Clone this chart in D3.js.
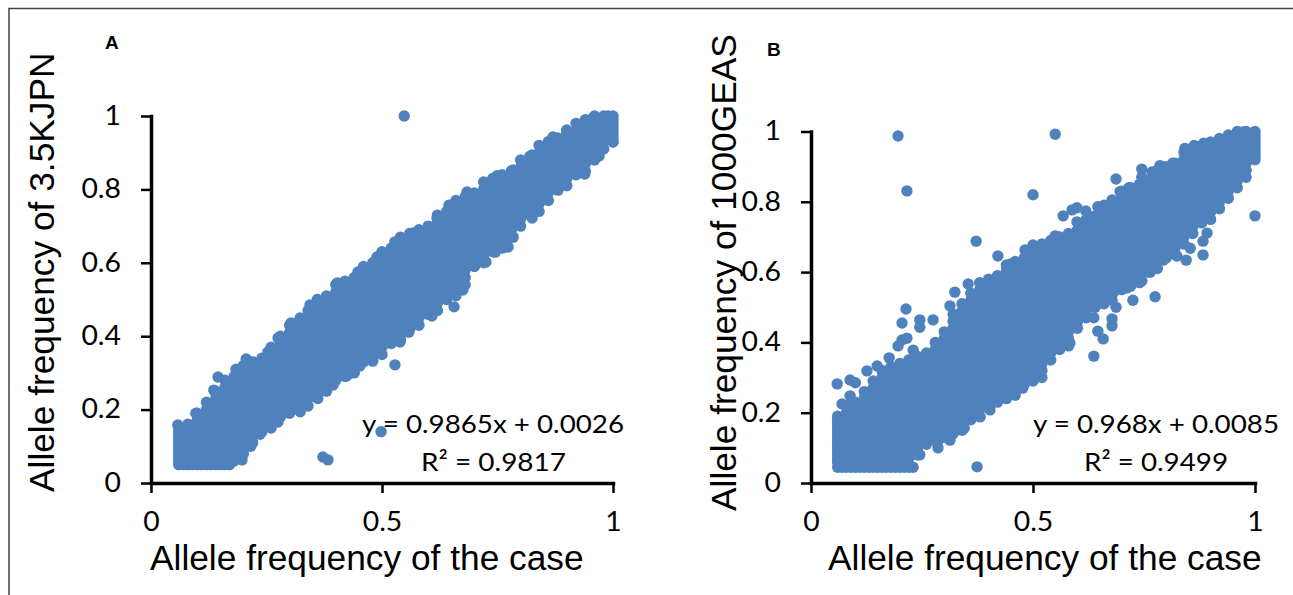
<!DOCTYPE html>
<html>
<head>
	<meta charset="utf-8" />
	<title>Allele frequency scatter</title>
	<script src="https://d3js.org/d3.v7.min.js"></script>
	<style type="text/css">
		body { margin: 0; background: white; }
		.tick text { font-family: Lato, sans-serif; font-size: 26px; fill: #000; }
		.title { font-family: "Liberation Sans", sans-serif; font-size: 35.3px; fill: #000; }
		.eq { font-family: Lato, sans-serif; font-size: 25.5px; fill: #000; }
		.letter { font-family: "Liberation Sans", sans-serif; font-weight: bold; font-size: 19px; fill: #000; }
	</style>
</head>
<body>
	<script>
		// all frequencies are in percent
		const caseCols = [6,8,10,12,14,16,18,20,22,24,26,28,30,32,34,36,38,40,42,44,46,48,50,52,54,56,58,60,62,64,66,68,70,72,74,76,78,80,82,84,86,88,90,92,94,96,98,100];

		const refA = [
			[5,7,9,11,13,15],
			[5,6,8,10,12,14,16],
			[5,7,9,11,13,15,17,19],
			[5,6,8,10,12,14,16,18,20,22],
			[5,7,9,11,13,15,17,19,21,23,25],
			[5,6,8,10,12,14,16,18,20,22,24,26,28],
			[6,7,9,11,13,15,17,19,21,23,25,27,29],
			[8,10,12,14,16,18,20,22,24,26,28,30,32],
			[11,13,15,17,19,21,23,25,27,29,31,33],
			[14,16,18,20,22,24,26,28,30,32,34],
			[15,17,19,21,23,25,27,29,31,33,35,37],
			[18,20,22,24,26,28,30,32,34,36,38,40],
			[19,21,23,25,27,29,31,33,35,37,39,41,43],
			[20,22,24,26,28,30,32,34,36,38,40,42,44],
			[21,23,25,27,29,31,33,35,37,39,41,43,45,47],
			[24,26,28,30,32,34,36,38,40,42,44,46,48,50],
			[25,27,29,31,33,35,37,39,41,43,45,47,49,51],
			[28,30,32,34,36,38,40,42,44,46,48,50,52,54],
			[29,31,33,35,37,39,41,43,45,47,49,51,53,55],
			[30,32,34,36,38,40,42,44,46,48,50,52,54,56],
			[33,35,37,39,41,43,45,47,49,51,53,55,57,59],
			[34,36,38,40,42,44,46,48,50,52,54,56,58,60],
			[35,37,39,41,43,45,47,49,51,53,55,57,59,61,63],
			[38,40,42,44,46,48,50,52,54,56,58,60,62,64],
			[39,41,43,45,47,49,51,53,55,57,59,61,63,65,67],
			[42,44,46,48,50,52,54,56,58,60,62,64,66,68],
			[43,45,47,49,51,53,55,57,59,61,63,65,67,69],
			[46,48,50,52,54,56,58,60,62,64,66,68,70],
			[47,49,51,53,55,57,59,61,63,65,67,69,71,73],
			[50,52,54,56,58,60,62,64,66,68,70,72,74],
			[51,53,55,57,59,61,63,65,67,69,71,73,75,77],
			[54,56,58,60,62,64,66,68,70,72,74,76,78],
			[59,61,63,65,67,69,71,73,75,77,79],
			[60,62,64,66,68,70,72,74,76,78,80,82],
			[63,65,67,69,71,73,75,77,79,81,83],
			[64,66,68,70,72,74,76,78,80,82,84],
			[67,69,71,73,75,77,79,81,83,85],
			[70,72,74,76,78,80,82,84,86,88],
			[73,75,77,79,81,83,85,87,89],
			[74,76,78,80,82,84,86,88,90,92],
			[77,79,81,83,85,87,89,91,93],
			[80,82,84,86,88,90,92,94],
			[81,83,85,87,89,91,93,95,96],
			[84,86,88,90,92,94,96,98],
			[85,87,89,91,93,95,97,99],
			[88,90,92,94,96,98,100],
			[91,93,95,97,99,100],
			[93,94,96,98,100]
		];
		const edgeCaseA = [54.8,49.8,37.2,38.3,19.7,21.6,23.6,27.5,32.3,36.1,39.4,42.4,45.2,48,52.8,53.9,55.8,60.8,65.6,67.5,67.5,69.7,72.5,74.5,77.3,78.4,82.5,88.1,93.9,97,100,5.8,9.7,13.6,14.5,18.4,20.6,25.3,27.5,30.3,32.3,34.4,40.3,44.8,48.9,52.8,56.7,61.9,64.5,68.4,72.7,74.9,78.4,82.5,84.8,87,90,95.7,7,9,11,13,15,17,6,6,6,6,6,100,100,100,99,99];
		const edgeRefA = [100,14,7.1,6.3,6.3,10,13.3,16.6,19.4,23,26.7,29.2,31.9,33.2,32.2,38.4,41.1,45.5,48,52.6,54.5,59.4,60.2,62.9,64.3,67,72.2,79.8,84.2,89.1,92.9,15.8,19,25.3,28.9,31,33.8,35.7,39.5,43.6,45,48.5,54.5,57.5,61.6,65.7,68.1,72.2,75.7,79.3,81.7,83.7,85.3,89.4,91.6,94.3,96.2,99.5,5,5,5,5,5,5,6,8,10,12,14,95,97,99,100,94];

		const refB = [
			[4.5,7,9,11,13,15,17,19],
			[4.5,6,8,10,12,14,16,18,20,22],
			[4.5,7,9,11,13,15,17,19,21,23],
			[4.5,6,8,10,12,14,16,18,20,22,24,26],
			[4.5,7,9,11,13,15,17,19,21,23,25,27,29],
			[4.5,6,8,10,12,14,16,18,20,22,24,26,28,30,32],
			[4.5,7,9,11,13,15,17,19,21,23,25,27,29,31,33],
			[4.5,6,8,10,12,14,16,18,20,22,24,26,28,30,32,34],
			[4.5,7,9,11,13,15,17,19,21,23,25,27,29,31,33,35],
			[8,10,12,14,16,18,20,22,24,26,28,30,32,34,36],
			[11,13,15,17,19,21,23,25,27,29,31,33,35,37],
			[12,14,16,18,20,22,24,26,28,30,32,34,36,38,40],
			[13,15,17,19,21,23,25,27,29,31,33,35,37,39,41,43],
			[14,16,18,20,22,24,26,28,30,32,34,36,38,40,42,44,46,48],
			[15,17,19,21,23,25,27,29,31,33,35,37,39,41,43,45,47,49,51],
			[18,20,22,24,26,28,30,32,34,36,38,40,42,44,46,48,50,52,54],
			[19,21,23,25,27,29,31,33,35,37,39,41,43,45,47,49,51,53,55,57],
			[22,24,26,28,30,32,34,36,38,40,42,44,46,48,50,52,54,56,58],
			[23,25,27,29,31,33,35,37,39,41,43,45,47,49,51,53,55,57,59],
			[24,26,28,30,32,34,36,38,40,42,44,46,48,50,52,54,56,58,60,62],
			[25,27,29,31,33,35,37,39,41,43,45,47,49,51,53,55,57,59,61,63],
			[28,30,32,34,36,38,40,42,44,46,48,50,52,54,56,58,60,62,64],
			[29,31,33,35,37,39,41,43,45,47,49,51,53,55,57,59,61,63,65,67],
			[30,32,34,36,38,40,42,44,46,48,50,52,54,56,58,60,62,64,66,68],
			[35,37,39,41,43,45,47,49,51,53,55,57,59,61,63,65,67,69],
			[38,40,42,44,46,48,50,52,54,56,58,60,62,64,66,68,70],
			[39,41,43,45,47,49,51,53,55,57,59,61,63,65,67,69,71],
			[44,46,48,50,52,54,56,58,60,62,64,66,68,70,72],
			[47,49,51,53,55,57,59,61,63,65,67,69,71,73,75],
			[50,52,54,56,58,60,62,64,66,68,70,72,74,76],
			[51,53,55,57,59,61,63,65,67,69,71,73,75,77,79],
			[54,56,58,60,62,64,66,68,70,72,74,76,78,80],
			[55,57,59,61,63,65,67,69,71,73,75,77,79,81,83],
			[56,58,60,62,64,66,68,70,72,74,76,78,80,82,84],
			[57,59,61,63,65,67,69,71,73,75,77,79,81,83,85],
			[60,62,64,66,68,70,72,74,76,78,80,82,84,86],
			[61,63,65,67,69,71,73,75,77,79,81,83,85,87,89],
			[64,66,68,70,72,74,76,78,80,82,84,86,88,90],
			[65,67,69,71,73,75,77,79,81,83,85,87,89,91],
			[68,70,72,74,76,78,80,82,84,86,88,90,92,94],
			[71,73,75,77,79,81,83,85,87,89,91,93,95],
			[74,76,78,80,82,84,86,88,90,92,94,96],
			[75,77,79,81,83,85,87,89,91,93,95,97],
			[78,80,82,84,86,88,90,92,94,96,98],
			[81,83,85,87,89,91,93,95,97,99],
			[84,86,88,90,92,94,96,98,100],
			[87,89,91,93,95,97,99,100],
			[92,94,96,98,100]
		];
		const edgeCaseB = [19.6,21.6,50,55,37.2,42.1,32.4,21.4,20.5,24.5,24.5,21.6,20.5,19.6,27.5,23,31.3,35.4,5.9,8.8,10,8.8,7,12.6,14.9,17.6,37.4,24.5,28.6,28.6,31.3,34.5,38.1,40.3,44.1,47.7,68.7,100,89.2,88.3,88.3,84.5,82.4,77.5,72.5,63.7,65.8,64.6,67.8,67.8,63.7,68.7,67.8,65.8,56.8,58.8,59.9,61.9,59.9,64.6,67.8,69.6,71.6,74.5,74.5,78.6,76.8,81.5,84.2,86.3,88.5,92.1,95,97.3,55,58.8,50,53.2,48.2,45,44.1,85.8,85.4,79.3,76.4,74.5,71.2,59.9,58.3,53.8,7,9,11,13,15,17,19,21,23,6,6,6,6,6,6,6,100,100,100,100];
		const edgeRefB = [98.7,83.1,82,99.2,68.8,64.6,54.3,49.5,45.5,46.4,44.3,41.2,40.7,39,46.4,37.8,50.4,56.6,28.2,29.3,28.5,24.8,22.5,31.9,33.3,35.6,4.6,8,10,12,12.2,15.6,18.8,20.8,24.5,27,86.5,76,71.1,68.8,64.9,63.4,64.6,53,52,36.1,41,43.2,44.7,46.7,47,50,52,51.2,76,77.7,78.3,77.4,74.3,78.6,80.5,82.9,84,89.3,87,90.3,88.5,91,95.2,96,96.7,97,98.4,99.9,70.3,70.5,67.7,67.7,66.3,62.3,60.9,73,66.8,63.4,60,57.5,55.5,45.5,39.8,37,4.5,4.5,4.5,4.5,4.5,4.5,4.5,4.5,4.5,6,8,10,12,14,16,18,93,95,97,99];

		const ticksX = [0, 50, 100];
		const labelsX = ["0", "0.5", "1"];
		const ticksY = [0, 20, 40, 60, 80, 100];
		const labelsY = ["0", "0.2", "0.4", "0.6", "0.8", "1"];

		const width = 1293;
		const height = 595;
		const dotColor = "#4f81bd";

		const svg = d3.select("body")
			.append("svg")
			.attr("width", width)
			.attr("height", height)
			.style("display", "block");

		// frame of the figure, only top and left show
		svg.append("path")
			.attr("d", "M9,595V8.5H1293")
			.attr("fill", "none")
			.attr("stroke", "#404040")
			.attr("stroke-width", 1.5);

		// the source image is stretched sideways, so the tick digits get wider too
		function stretch(sel, factor) {
			sel.each(function() {
				d3.select(this)
					.attr("textLength", this.getComputedTextLength() * factor)
					.attr("lengthAdjust", "spacingAndGlyphs");
			});
		}

		function drawPanel(p) {
			const x = d3.scaleLinear().domain([0, 100]).range([p.left, p.right]);
			const y = d3.scaleLinear().domain([0, 100]).range([p.bottom, p.top]);

			const dots = caseCols.flatMap((c, i) => p.ref[i].map(r => [c, r]))
				.concat(p.edgeCase.map((c, i) => [c, p.edgeRef[i]]));

			svg.append("g").selectAll("circle")
				.data(dots)
				.enter()
				.append("circle")
				.attr("cx", d => x(d[0]))
				.attr("cy", d => y(d[1]))
				.attr("r", 5.7)
				.attr("fill", dotColor);

			const axisX = d3.axisBottom(x)
				.tickValues(ticksX)
				.tickFormat((d, i) => labelsX[i])
				.tickSize(10)
				.tickSizeOuter(0)
				.tickPadding(20);
			const axisY = d3.axisLeft(y)
				.tickValues(ticksY)
				.tickFormat((d, i) => labelsY[i])
				.tickSize(10)
				.tickSizeOuter(0)
				.tickPadding(20);

			const gx = svg.append("g").attr("transform", "translate(0," + p.bottom + ")").call(axisX);
			const gy = svg.append("g").attr("transform", "translate(" + p.left + ",0)").call(axisY);
			[gx, gy].forEach(g => {
				g.select(".domain").attr("stroke", "#000").attr("stroke-width", 3.5).attr("stroke-linecap", "square");
				g.selectAll(".tick line").attr("stroke", "#000").attr("stroke-width", 2.5);
				g.selectAll(".tick text").attr("font-family", null).attr("font-size", null);
				stretch(g.selectAll(".tick text"), 1.09);
			});

			svg.append("text")
				.attr("class", "title")
				.attr("x", p.titleX)
				.attr("y", 570)
				.text("Allele frequency of the case");

			svg.append("text")
				.attr("class", "title")
				.attr("transform", "translate(" + p.yTitleX + "," + p.yTitleY + ") rotate(-90)")
				.text(p.yTitle);

			svg.append("text").attr("class", "letter").attr("x", p.letterX).attr("y", p.letterY).text(p.letter);

			svg.append("text").attr("class", "eq").attr("x", p.eqX).attr("y", 433)
				.attr("textLength", p.eqLen).attr("lengthAdjust", "spacingAndGlyphs").text(p.eq);
			svg.append("text").attr("class", "eq").attr("x", p.r2X).attr("y", 471)
				.attr("textLength", p.r2Len).attr("lengthAdjust", "spacingAndGlyphs").text(p.r2);
		}

		drawPanel({
			left: 151, right: 613, top: 116, bottom: 483,
			ref: refA, edgeCase: edgeCaseA, edgeRef: edgeRefA,
			titleX: 150, yTitle: "Allele frequency of 3.5KJPN", yTitleX: 54, yTitleY: 492,
			letter: "A", letterX: 105, letterY: 49,
			eq: "y = 0.9865x + 0.0026", eqX: 362, eqLen: 262, r2: "R² = 0.9817", r2X: 421, r2Len: 145
		});
		drawPanel({
			left: 811, right: 1255, top: 131.5, bottom: 483,
			ref: refB, edgeCase: edgeCaseB, edgeRef: edgeRefB,
			titleX: 828, yTitle: "Allele frequency of 1000GEAS", yTitleX: 736, yTitleY: 511,
			letter: "B", letterX: 767, letterY: 56,
			eq: "y = 0.968x + 0.0085", eqX: 1033, eqLen: 246, r2: "R² = 0.9499", r2X: 1084, r2Len: 144
		});
	</script>
</body>
</html>
